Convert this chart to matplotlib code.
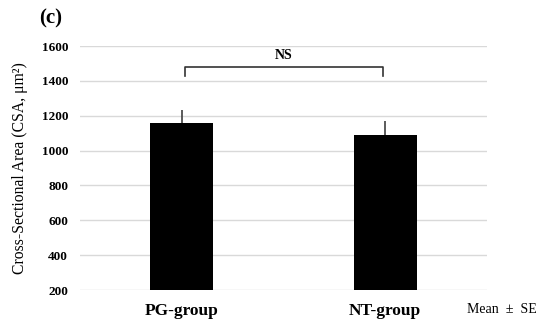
import matplotlib
matplotlib.use("Agg")
import matplotlib.pyplot as plt

# DATA
groups = ["PG-group", "NT-group"]
means = [1156, 1091]
se = [77, 79]
ticks = [200, 400, 600, 800, 1000, 1200, 1400, 1600]

plt.rcParams["font.family"] = ["Liberation Serif", "DejaVu Serif"]

fig = plt.figure(figsize=(5.5, 3.29), dpi=100)
ax = fig.add_axes([0.1455, 0.1185, 0.74, 0.7415])

x = list(range(len(groups)))
ax.bar(x, means, width=0.31, color="black", zorder=3)
ax.errorbar(x, means, yerr=[[0] * len(se), se], fmt="none",
            ecolor="#404040", elinewidth=1.2, capsize=0, zorder=2)

ax.set_xlim(-0.5, 1.5)
ax.set_ylim(200, 1600)
ax.set_yticks(ticks)
ax.set_yticklabels([str(t) for t in ticks], fontsize=9.5, fontweight="bold")
ax.set_xticks(x)
ax.set_xticklabels(groups, fontsize=12.5, fontweight="bold")
ax.tick_params(axis="both", length=0)
ax.tick_params(axis="y", pad=8.5)
ax.tick_params(axis="x", pad=9)
ax.grid(axis="y", color="#d9d9d9", linewidth=1, zorder=0)
for s in ax.spines.values():
    s.set_visible(False)

ax.set_ylabel("Cross-Sectional Area (CSA, μm²)", fontsize=11.3, labelpad=10)

# significance bracket
bx0, bx1 = x[0] + 0.015, x[1] - 0.01
ax.plot([bx0, bx0, bx1, bx1], [1428, 1481, 1481, 1428], color="#333333",
        linewidth=1.2, clip_on=False, zorder=4)
ax.text((bx0 + bx1) / 2, 1510, "NS", ha="center", va="bottom",
        fontsize=10, fontweight="bold")

fig.text(0.072, 0.945, "(c)", fontsize=15, fontweight="bold", va="center")
fig.text(0.849, 0.06, "Mean  \u00b1  SE", fontsize=10, va="center")

fig.savefig("out.png", dpi=100)
